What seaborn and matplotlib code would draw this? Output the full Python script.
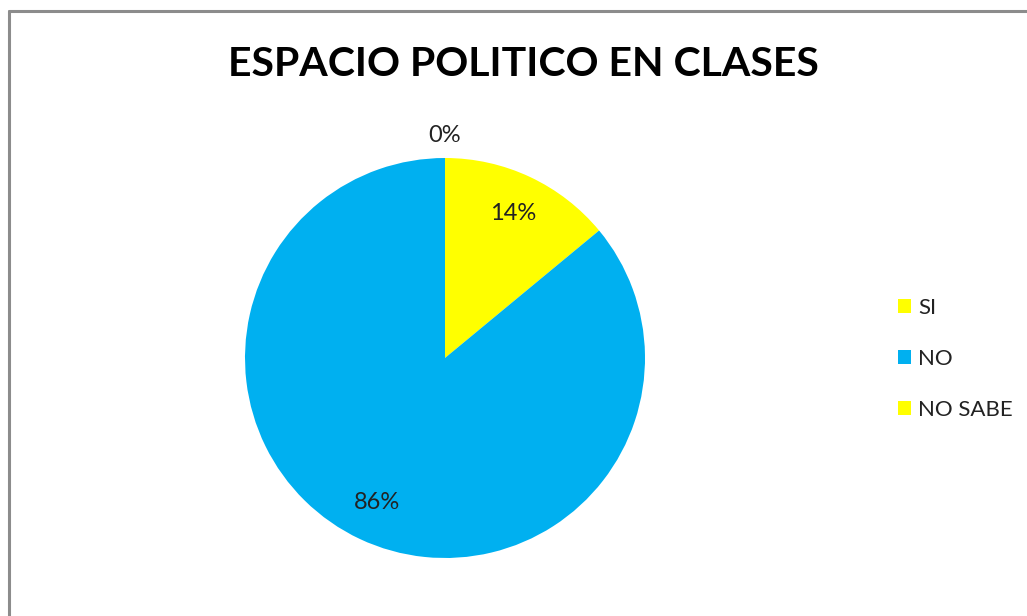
import seaborn as sns
import matplotlib.pyplot as plt
from matplotlib.lines import Line2D
import numpy as np

categories = ['SI', 'NO', 'NO SABE']
values = [14, 86, 0]
colors = ['#FFFF00', '#00B0F0', '#FFFF00']
title = 'ESPACIO POLITICO EN CLASES'

sns.set_theme(style='white')
plt.rcParams['font.family'] = ['Lato', 'DejaVu Sans']

W, H = 1027, 616
fig = plt.figure(figsize=(W / 100, H / 100), dpi=100)
fig.patch.set_facecolor('white')

# chart border (only left and top visible in the reference)
fig.add_artist(Line2D([8.5 / W, 8.5 / W], [0, 1 - 10.5 / H], color='#8c8c8c', lw=2.2))
fig.add_artist(Line2D([8.5 / W, 1], [1 - 10.5 / H, 1 - 10.5 / H], color='#8c8c8c', lw=2.2))

cx, cy, r = 445, 358, 200
ax = fig.add_axes([(cx - r) / W, (H - cy - r) / H, 2 * r / W, 2 * r / H])
wedges, texts, autotexts = ax.pie(values, colors=colors, startangle=90, counterclock=False,
                                  autopct='%1.0f%%', pctdistance=0.8,
                                  wedgeprops={'linewidth': 0},
                                  textprops={'fontsize': 17, 'color': '#222222'})
ax.set_xlim(-1, 1)
ax.set_ylim(-1, 1)
ax.set_aspect('equal')

# zero-value slice label sits just outside the pie
for w, t, v in zip(wedges, autotexts, values):
    if v == 0:
        ang = np.deg2rad((w.theta1 + w.theta2) / 2)
        t.set_position((1.11 * np.cos(ang), 1.11 * np.sin(ang)))

fig.text(523.5 / W, 1 - 64 / H, title, ha='center', va='center', fontsize=29.5, fontweight='bold', color='black')

leg = fig.legend(wedges, categories, loc='center left', bbox_to_anchor=(878 / W, 1 - 359 / H),
                 frameon=False, fontsize=16, handlelength=0.6, handleheight=0.6,
                 handletextpad=0.3, labelspacing=1.4)
for t in leg.get_texts():
    t.set_color('#222222')

fig.savefig('out.png', dpi=100)
